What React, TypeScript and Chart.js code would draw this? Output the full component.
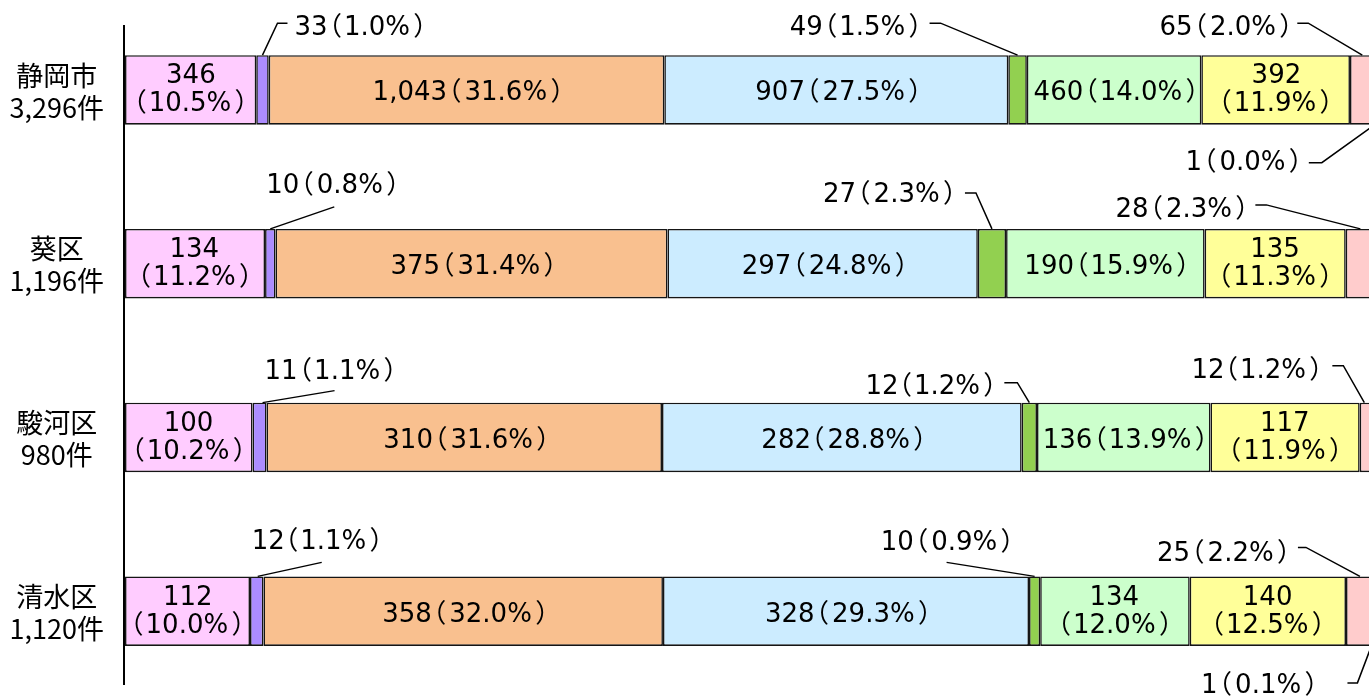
import { useEffect, useRef } from 'react';
import { Chart, registerables } from 'chart.js';

Chart.register(...registerables);

// ---------- data ----------
const categories = ['静岡市', '葵区', '駿河区', '清水区'];
const totals = [3296, 1196, 980, 1120];

const seriesNames = ['区分1', '区分2', '区分3', '区分4', '区分5', '区分6', '区分7', '区分8', '区分9'];

const s1Counts = [346, 134, 100, 112];
const s2Counts = [33, 10, 11, 12];
const s3Counts = [1043, 375, 310, 358];
const s4Counts = [907, 297, 282, 328];
const s5Counts = [49, 27, 12, 10];
const s6Counts = [460, 190, 136, 134];
const s7Counts = [392, 135, 117, 140];
const s8Counts = [65, 28, 12, 25];
const s9Counts = [1, 0, 0, 1];

const s1Pct = [10.5, 11.2, 10.2, 10.0];
const s2Pct = [1.0, 0.8, 1.1, 1.1];
const s3Pct = [31.6, 31.4, 31.6, 32.0];
const s4Pct = [27.5, 24.8, 28.8, 29.3];
const s5Pct = [1.5, 2.3, 1.2, 0.9];
const s6Pct = [14.0, 15.9, 13.9, 12.0];
const s7Pct = [11.9, 11.3, 11.9, 12.5];
const s8Pct = [2.0, 2.3, 1.2, 2.2];
const s9Pct = [0.0, 0.0, 0.0, 0.1];

const seriesCounts = [s1Counts, s2Counts, s3Counts, s4Counts, s5Counts, s6Counts, s7Counts, s8Counts, s9Counts];
const seriesPct = [s1Pct, s2Pct, s3Pct, s4Pct, s5Pct, s6Pct, s7Pct, s8Pct, s9Pct];

// ---------- style ----------
const colors = ['#FFCCFF', '#AC8CFF', '#F9C08F', '#CCECFF', '#92D050', '#CCFFCC', '#FFFF99', '#FFCCCC', '#D9D9D9'];
const FONT = '"DejaVu Sans", "Noto Sans CJK JP", sans-serif';
const TICK_FONT = '"Noto Sans CJK JP", sans-serif';
const LABEL_SIZE = 26;
const TICK_SIZE = 27;
const DIGIT_HALF = 0.3645 * LABEL_SIZE; // half of digit height -> baseline offset
const GAP_BEFORE_OPEN = 8;
const GAP_AFTER_OPEN = 5;
const GAP_BEFORE_CLOSE = 5;
const innerSeries = [0, 2, 3, 5, 6];

// callout layout: offsets relative to segment centre / bar edge
type Callout = {
  row: number;
  seg: number;
  side: 'top' | 'bottom';
  align: 'left' | 'right';
  tx: number;
  ty: number;
  path: [number, number][];
};
const callouts: Callout[] = [
  { row: 0, seg: 1, side: 'top', align: 'left', tx: 33, ty: -30, path: [[0, 0], [15, -32], [25, -32]] },
  { row: 0, seg: 4, side: 'top', align: 'right', tx: -101, ty: -30, path: [[0, 0], [-77, -32], [-88, -32]] },
  { row: 0, seg: 7, side: 'top', align: 'right', tx: -75, ty: -30, path: [[0, 0], [-54, -32], [-65, -32]] },
  { row: 0, seg: 8, side: 'bottom', align: 'right', tx: -78, ty: 36, path: [[0, 0], [-53, 38], [-66, 38]] },
  { row: 1, seg: 1, side: 'top', align: 'left', tx: -2, ty: -45, path: [[0, 0], [64, -22]] },
  { row: 1, seg: 4, side: 'top', align: 'right', tx: -41, ty: -36, path: [[0, 0], [-16, -36], [-27, -36]] },
  { row: 1, seg: 7, side: 'top', align: 'right', tx: -117, ty: -21, path: [[0, 0], [-94, -24], [-105, -24]] },
  { row: 2, seg: 1, side: 'top', align: 'left', tx: 7, ty: -33, path: [[3, 0], [75, -12]] },
  { row: 2, seg: 4, side: 'top', align: 'right', tx: -38, ty: -18, path: [[0, 0], [-12, -20], [-25, -20]] },
  { row: 2, seg: 7, side: 'top', align: 'right', tx: -50, ty: -34, path: [[-3, 0], [-24, -37], [-35, -37]] },
  { row: 3, seg: 1, side: 'top', align: 'left', tx: -3, ty: -37, path: [[1, 0], [65, -14]] },
  { row: 3, seg: 4, side: 'top', align: 'right', tx: -26, ty: -36, path: [[0, 0], [-88, -14]] },
  { row: 3, seg: 7, side: 'top', align: 'right', tx: -75, ty: -25, path: [[0, 0], [-54, -29], [-62, -29]] },
  { row: 3, seg: 8, side: 'bottom', align: 'right', tx: -62, ty: 38, path: [[-3, 0], [-17, 37], [-27, 37]] },
];

const AXIS_TOP = 25;
const AXIS_BOTTOM = 685;

const fmt = (n: number) => n.toLocaleString('en-US');

type Tok = { t: string; gap: number };
const fullTokens = (c: number, p: number): Tok[] => [
  { t: fmt(c), gap: GAP_BEFORE_OPEN },
  { t: '（', gap: GAP_AFTER_OPEN },
  { t: `${p.toFixed(1)}%`, gap: GAP_BEFORE_CLOSE },
  { t: '）', gap: 0 },
];
const pctTokens = (p: number): Tok[] => [
  { t: '（', gap: GAP_AFTER_OPEN },
  { t: `${p.toFixed(1)}%`, gap: GAP_BEFORE_CLOSE },
  { t: '）', gap: 0 },
];

// lay out tokens by ink bounds; returns placed draw offsets and total ink width
function layout(ctx: CanvasRenderingContext2D, toks: Tok[]) {
  let cursor = 0;
  const placed: { t: string; dx: number }[] = [];
  toks.forEach((tok, i) => {
    const m = ctx.measureText(tok.t);
    const dx = cursor + m.actualBoundingBoxLeft;
    placed.push({ t: tok.t, dx });
    cursor = dx + m.actualBoundingBoxRight + (i < toks.length - 1 ? tok.gap : 0);
  });
  return { placed, width: cursor };
}

function drawToks(ctx: CanvasRenderingContext2D, toks: Tok[], x: number, centerY: number, align: 'left' | 'center' | 'right') {
  const { placed, width } = layout(ctx, toks);
  let start = x;
  if (align === 'center') start = x - width / 2;
  else if (align === 'right') start = x - width;
  ctx.textAlign = 'left';
  ctx.textBaseline = 'alphabetic';
  placed.forEach((p) => ctx.fillText(p.t, start + p.dx, centerY + DIGIT_HALF));
}

const labelPlugin = {
  id: 'segLabels',
  afterDatasetsDraw(chart: any) {
    const ctx: CanvasRenderingContext2D = chart.ctx;
    ctx.save();
    ctx.font = `${LABEL_SIZE}px ${FONT}`;
    ctx.fillStyle = '#000';

    // inner labels
    innerSeries.forEach((si) => {
      const meta = chart.getDatasetMeta(si);
      meta.data.forEach((el: any, r: number) => {
        const { x, base, y } = el.getProps(['x', 'base', 'y'], true);
        const left = Math.min(x, base);
        const w = Math.abs(x - base);
        const cx = left + w / 2;
        const c = seriesCounts[si][r];
        const p = seriesPct[si][r];
        const full = fullTokens(c, p);
        if (layout(ctx, full).width <= w - 8) {
          drawToks(ctx, full, cx, y + 1, 'center');
        } else {
          drawToks(ctx, [{ t: fmt(c), gap: 0 }], cx, y - 16, 'center');
          drawToks(ctx, pctTokens(p), cx, y + 12, 'center');
        }
      });
    });

    // callouts
    ctx.strokeStyle = '#000';
    ctx.lineWidth = 1.5;
    callouts.forEach((c) => {
      const el = chart.getDatasetMeta(c.seg).data[c.row];
      if (!el) return;
      const { x, base, y, height } = el.getProps(['x', 'base', 'y', 'height'], true);
      const cx = (x + base) / 2;
      const ey = c.side === 'top' ? y - height / 2 : y + height / 2;
      ctx.beginPath();
      c.path.forEach(([dx, dy], i) => {
        if (i === 0) ctx.moveTo(cx + dx, ey + dy);
        else ctx.lineTo(cx + dx, ey + dy);
      });
      ctx.stroke();
      drawToks(ctx, fullTokens(seriesCounts[c.seg][c.row], seriesPct[c.seg][c.row]), cx + c.tx, ey + c.ty, c.align);
    });

    // vertical axis line
    ctx.beginPath();
    ctx.lineWidth = 2;
    const ax = chart.chartArea.left - 1;
    ctx.moveTo(ax, AXIS_TOP);
    ctx.lineTo(ax, AXIS_BOTTOM);
    ctx.stroke();
    ctx.restore();
  },
};

export default function App() {
  const ref = useRef<HTMLCanvasElement | null>(null);

  useEffect(() => {
    if (!ref.current) return;
    const datasets = seriesNames.map((name, i) => ({
      label: name,
      data: seriesCounts[i].map((c, r) => (c / totals[r]) * 100),
      backgroundColor: colors[i],
      borderColor: '#151515',
      borderWidth: 1.6,
      borderSkipped: false as const,
      barPercentage: 0.4,
      categoryPercentage: 1,
    }));
    const chart = new Chart(ref.current, {
      type: 'bar',
      data: {
        labels: categories.map((c, i) => [c, `${fmt(totals[i])}件`]),
        datasets,
      },
      options: {
        indexAxis: 'y',
        animation: false,
        responsive: true,
        maintainAspectRatio: false,
        layout: { padding: { top: 3, bottom: 0, left: 0, right: 15 } },
        scales: {
          x: { stacked: true, min: 0, max: 100, display: false },
          y: {
            stacked: true,
            grid: { display: false, drawTicks: false },
            border: { display: false },
            ticks: {
              color: '#000',
              crossAlign: 'center',
              padding: 21,
              labelOffset: 1.5,
              font: { family: TICK_FONT, size: TICK_SIZE, lineHeight: '32px' },
            },
            afterFit: (axis: any) => {
              axis.width = 125;
              axis.paddingTop = 0;
              axis.paddingBottom = 0;
            },
          },
        },
        plugins: {
          legend: { display: false },
          tooltip: { enabled: false },
        },
      },
      plugins: [labelPlugin],
    });
    return () => chart.destroy();
  }, []);

  return (
    <div style={{ position: 'fixed', left: 0, top: 0, width: 1369, height: 698, overflow: 'hidden', background: '#fff' }}>
      <div style={{ position: 'relative', width: 1390, height: 698 }}>
        <canvas ref={ref} />
      </div>
    </div>
  );
}
